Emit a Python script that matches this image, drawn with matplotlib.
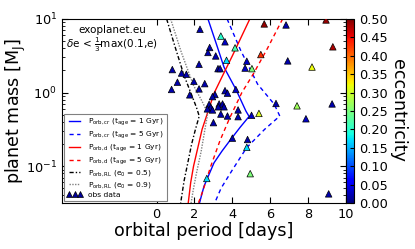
import numpy as np
import matplotlib
matplotlib.use("Agg")
import matplotlib.pyplot as plt
from matplotlib.lines import Line2D

# ---- observed planets ----
obs_period = [2.29, 3.39, 3.61, 4.14, 2.80, 2.71, 3.12, 3.69, 3.24, 3.35, 2.24, 0.83,
              1.32, 1.57, 1.10, 1.97, 0.79, 2.24, 1.75, 2.54, 3.08, 2.95, 3.61, 3.74,
              3.30, 3.48, 3.26, 3.56, 2.77, 2.86, 2.68, 2.95, 3.39, 3.74, 3.00, 4.30,
              4.30, 4.00, 4.80, 4.76, 2.65, 4.94, 9.08, 5.68, 6.83, 8.94, 9.30, 5.50,
              6.92, 8.20, 4.76, 4.67, 5.03, 6.30, 7.41, 9.26, 5.40, 5.01, 7.88, 4.18]
obs_mass = [7.23, 5.85, 4.89, 4.05, 4.09, 3.50, 3.14, 2.74, 2.11, 2.11, 2.42, 2.05,
            1.84, 1.77, 1.38, 1.42, 1.10, 1.12, 0.93, 1.32, 0.94, 0.88, 1.06, 0.98,
            0.70, 0.70, 0.64, 0.64, 0.69, 0.63, 0.60, 0.58, 0.51, 0.48, 0.39, 0.58,
            0.47, 0.24, 0.23, 0.18, 0.068, 0.079, 0.042, 8.55, 8.28, 9.68, 4.18, 3.28,
            2.69, 2.22, 2.66, 2.15, 2.11, 0.71, 0.66, 0.70, 0.52, 0.49, 0.44, 1.10]
obs_ecc = [0.02, 0.20, 0.03, 0.22, 0.02, 0.02, 0.02, 0.17, 0.02, 0.02, 0.02, 0.02,
           0.02, 0.02, 0.02, 0.02, 0.02, 0.02, 0.02, 0.02, 0.02, 0.02, 0.02, 0.02,
           0.02, 0.02, 0.02, 0.02, 0.02, 0.02, 0.02, 0.02, 0.02, 0.02, 0.02, 0.02,
           0.02, 0.02, 0.02, 0.17, 0.17, 0.25, 0.02, 0.49, 0.02, 0.49, 0.48, 0.43,
           0.02, 0.32, 0.03, 0.03, 0.25, 0.02, 0.27, 0.02, 0.31, 0.03, 0.03, 0.03]

# ---- model curves (period [days], mass [M_J]) ----
cr1_p = [2.71, 3.15, 3.56, 4.18, 4.71, 4.88, 4.40, 3.92, 3.45, 3.03, 2.50, 2.24]
cr1_m = [10.0, 4.60, 2.20, 1.11, 0.562, 0.473, 0.335, 0.232, 0.160, 0.111, 0.0532, 0.0299]
cr5_p = [3.72, 4.44, 5.33, 6.21, 6.50, 5.70, 4.75, 4.00, 3.40, 3.03]
cr5_m = [10.0, 3.72, 1.30, 0.692, 0.479, 0.316, 0.178, 0.089, 0.050, 0.030]
d1_p = [4.92, 4.00, 3.48, 3.05, 2.90, 2.40, 2.28, 1.95, 1.80, 1.67]
d1_m = [10.0, 3.16, 1.69, 1.00, 0.77, 0.316, 0.232, 0.100, 0.060, 0.0316]
d5_p = [6.65, 5.85, 5.10, 4.50, 3.85, 3.35, 2.86, 2.45, 2.18]
d5_m = [10.0, 3.98, 1.78, 1.00, 0.447, 0.224, 0.100, 0.0468, 0.0302]
rl5_p = [0.53, 1.00, 1.45, 1.80, 2.10, 2.25, 2.05, 1.85, 1.65, 1.45, 1.27]
rl5_m = [10.0, 3.98, 1.70, 1.00, 0.631, 0.479, 0.316, 0.200, 0.112, 0.063, 0.0316]
rl9_p = [0.74, 1.30, 1.94, 2.40, 2.70, 2.55, 2.35, 2.10, 1.95, 1.82]
rl9_m = [10.0, 3.55, 1.26, 0.759, 0.525, 0.316, 0.158, 0.0794, 0.0501, 0.0316]

xticks = [0, 2, 4, 6, 8, 10]
cticks = [0.00, 0.05, 0.10, 0.15, 0.20, 0.25, 0.30, 0.35, 0.40, 0.45, 0.50]

plt.rcParams['font.family'] = 'DejaVu Sans'
plt.rcParams['mathtext.fontset'] = 'dejavusans'
plt.rcParams['xtick.direction'] = 'in'
plt.rcParams['ytick.direction'] = 'in'

fig = plt.figure(figsize=(4.15, 2.49), dpi=100)
ax = fig.add_axes([0.149, 0.185, 0.685, 0.739])
cax = fig.add_axes([0.834, 0.185, 0.019, 0.739])

l1, = ax.plot(cr1_p, cr1_m, color='blue', lw=1.0, ls='-')
l2, = ax.plot(cr5_p, cr5_m, color='blue', lw=1.0, ls=(0, (3, 2.5)))
l3, = ax.plot(d1_p, d1_m, color='red', lw=1.0, ls='-')
l4, = ax.plot(d5_p, d5_m, color='red', lw=1.0, ls=(0, (3, 2.5)))
l5, = ax.plot(rl5_p, rl5_m, color='black', lw=1.0, ls=(0, (3, 1.5, 1, 1.5)))
l6, = ax.plot(rl9_p, rl9_m, color='gray', lw=1.0, ls=(0, (1, 1)))

sc = ax.scatter(obs_period, obs_mass, c=obs_ecc, cmap='jet', vmin=0, vmax=0.5,
                marker='^', s=22, edgecolors='black', linewidths=0.5, zorder=3)

ax.set_yscale('log')
ax.set_xlim(-5, 10)
ax.set_ylim(10**-1.5, 10)
ax.set_xticks(xticks)
ax.tick_params(which='both', top=True, right=True, labelsize=9.3)
ax.tick_params(which='major', length=4)
ax.tick_params(which='minor', length=2)
ax.set_xlabel('orbital period [days]', fontsize=12.6, labelpad=1)
ax.set_ylabel(r'planet mass [M$_{\rm J}$]', fontsize=12.6)
ax.yaxis.set_label_coords(-0.118, 0.5)

ax.text(0.176, 0.94, 'exoplanet.eu', transform=ax.transAxes, ha='center', va='center',
        fontsize=7.5)
ax.text(0.176, 0.862, r'$\delta$e < $\frac{1}{3}$max(0.1,e)', transform=ax.transAxes,
        ha='center', va='center', fontsize=7.5)

cb = fig.colorbar(sc, cax=cax, ticks=cticks)
cb.ax.set_yticklabels(['%.2f' % t for t in cticks])
cb.ax.tick_params(labelsize=9.3, direction='in', length=3)
cb.ax.set_ylabel('eccentricity', fontsize=12.6, rotation=270, va='bottom', labelpad=1)
cb.outline.set_linewidth(0.8)

obs_proxy = Line2D([], [], ls='none', marker='^', markersize=5, markerfacecolor=(0, 0, 0.6),
                   markeredgecolor='black', markeredgewidth=0.5)
labels = [r'P$_{\rm orb,cr}$ (t$_{\rm age}$ = 1 Gyr)',
          r'P$_{\rm orb,cr}$ (t$_{\rm age}$ = 5 Gyr)',
          r'P$_{\rm orb,d}$ (t$_{\rm age}$ = 1 Gyr)',
          r'P$_{\rm orb,d}$ (t$_{\rm age}$ = 5 Gyr)',
          r'P$_{\rm orb,RL}$ (e$_0$ = 0.5)',
          r'P$_{\rm orb,RL}$ (e$_0$ = 0.9)',
          'obs data']
leg = ax.legend([l1, l2, l3, l4, l5, l6, obs_proxy], labels, loc='lower left',
                fontsize=5.4, numpoints=3, handlelength=2.0, labelspacing=0.2,
                borderaxespad=0.3, fancybox=False, framealpha=1, edgecolor='gray',
                borderpad=0.4, handletextpad=0.8)
leg.get_frame().set_linewidth(0.8)

fig.savefig('out.png', dpi=100)
